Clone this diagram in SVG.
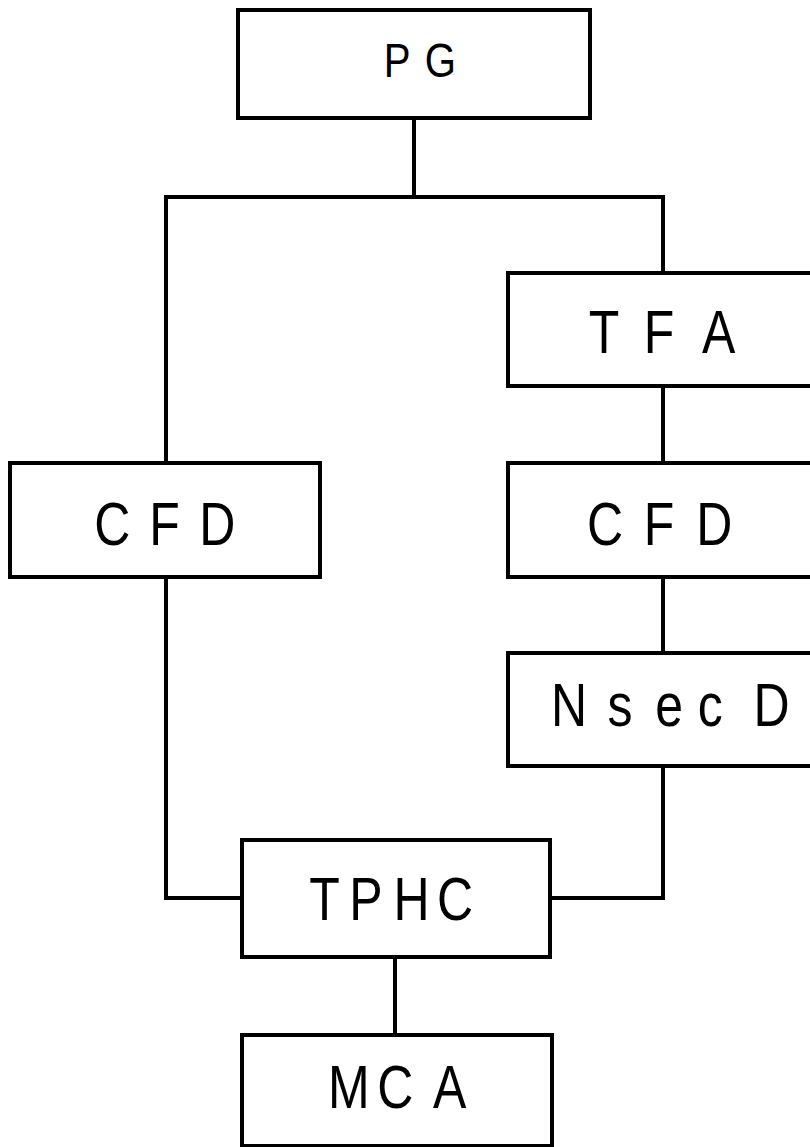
<svg xmlns="http://www.w3.org/2000/svg" width="810" height="1147" viewBox="0 0 810 1147">
<style>
.box{fill:none;stroke:#000;stroke-width:4}
.ln{fill:none;stroke:#000;stroke-width:4;stroke-linecap:square;stroke-linejoin:miter}
.t{font-family:"Liberation Sans",Arial,sans-serif;font-size:61px;fill:#000}
.s{font-size:49px}
</style>
<rect width="810" height="1147" fill="#fff"/>
<g id="connectors">
<path class="ln" d="M414 118 V197 M166 197 H663 M166 197 V463 M663 197 V273"/>
<path class="ln" d="M663 386 V463 M663 577 V653 M663 766 V898 H550"/>
<path class="ln" d="M166 577 V898 H242"/>
<path class="ln" d="M395 957 V1035"/>
</g>
<g id="PG">
<rect class="box" x="238" y="10" width="352" height="108"/>
<text class="t s" transform="scale(0.82 1)" y="77"><tspan x="468">P</tspan><tspan x="518">G</tspan></text>
</g>
<g id="TFA">
<rect class="box" x="508" y="273" width="320" height="113"/>
<text class="t" transform="scale(0.82 1)" y="353"><tspan x="718">T</tspan><tspan x="785">F</tspan><tspan x="856">A</tspan></text>
</g>
<g id="CFD_left">
<rect class="box" x="10" y="463" width="310" height="114"/>
<text class="t" transform="scale(0.82 1)" y="545"><tspan x="115">C</tspan><tspan x="182">F</tspan><tspan x="243">D</tspan></text>
</g>
<g id="CFD_right">
<rect class="box" x="508" y="463" width="320" height="114"/>
<text class="t" transform="scale(0.82 1)" y="545"><tspan x="716">C</tspan><tspan x="785">F</tspan><tspan x="849">D</tspan></text>
</g>
<g id="NsecD">
<rect class="box" x="508" y="653" width="320" height="113"/>
<text class="t" transform="scale(0.82 1)" y="726"><tspan x="672">N</tspan><tspan x="741">s</tspan><tspan x="799">e</tspan><tspan x="851">c</tspan><tspan x="919">D</tspan></text>
</g>
<g id="TPHC">
<rect class="box" x="242" y="840" width="308" height="117"/>
<text class="t" transform="scale(0.82 1)" y="920"><tspan x="377">T</tspan><tspan x="426">P</tspan><tspan x="480">H</tspan><tspan x="533">C</tspan></text>
</g>
<g id="MCA">
<rect class="box" x="242" y="1035" width="310" height="111"/>
<text class="t" transform="scale(0.82 1)" y="1108"><tspan x="400">M</tspan><tspan x="460">C</tspan><tspan x="528">A</tspan></text>
</g>
</svg>
